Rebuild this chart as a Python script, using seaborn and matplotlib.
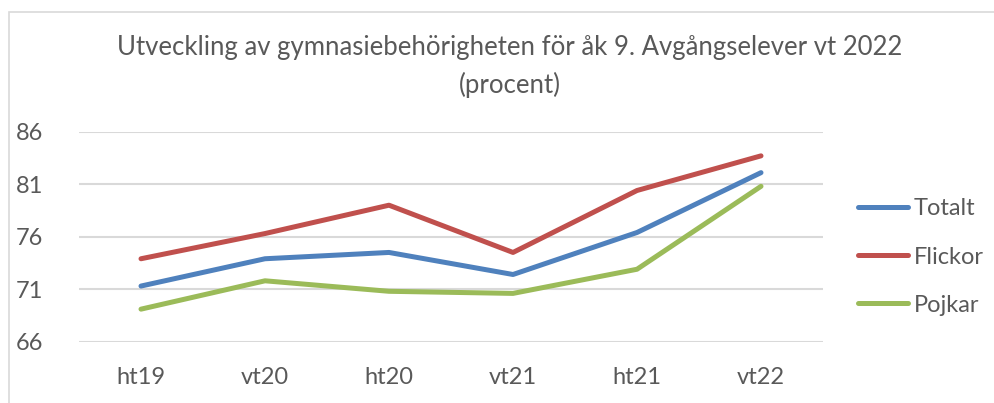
import pandas as pd
import numpy as np
import matplotlib.pyplot as plt
import seaborn as sns
from matplotlib.patches import Rectangle

# values
terms = ['ht19', 'vt20', 'ht20', 'vt21', 'ht21', 'vt22']
totalt = [71.3, 73.9, 74.5, 72.4, 76.4, 82.1]
flickor = [73.9, 76.3, 79.0, 74.5, 80.4, 83.7]
pojkar = [69.1, 71.8, 70.8, 70.6, 72.9, 80.8]
y_ticks = [66, 71, 76, 81, 86]

df = pd.DataFrame({
    'term': terms * 3,
    'value': totalt + flickor + pojkar,
    'group': ['Totalt'] * 6 + ['Flickor'] * 6 + ['Pojkar'] * 6,
})
palette = {'Totalt': '#4F81BD', 'Flickor': '#C0504D', 'Pojkar': '#9BBB59'}

sns.set_style('white')
plt.rcParams['font.family'] = ['Lato', 'DejaVu Sans']
text_col = '#595959'

fig = plt.figure(figsize=(9.95, 4.03), dpi=100)
ax = fig.add_axes([79 / 995, 1 - 341.7 / 403, (823 - 79) / 995, 210 / 403])

sns.lineplot(data=df, x='term', y='value', hue='group', palette=palette,
             linewidth=3.6, sort=False, ax=ax, legend=True)

ax.set_xlim(-0.5, 5.5)
ax.set_ylim(66, 86)
ax.set_yticks(y_ticks)
ax.yaxis.grid(True, color='#D9D9D9', linewidth=1.5)
ax.set_axisbelow(True)
for s in ax.spines.values():
    s.set_visible(False)
ax.tick_params(axis='both', length=0, labelsize=17, colors=text_col)
ax.tick_params(axis='y', pad=26)
ax.tick_params(axis='x', pad=18)
ax.set_xlabel('')
ax.set_ylabel('')

handles, labels = ax.get_legend_handles_labels()
ax.legend_.remove()
leg = fig.legend(handles, labels, loc='center left', bbox_to_anchor=(858 / 995, 1 - 257 / 403),
                 frameon=False, fontsize=17, handlelength=2.1, handletextpad=0.25,
                 labelspacing=1.15, borderpad=0, borderaxespad=0)
for t in leg.get_texts():
    t.set_color(text_col)

fig.text(510 / 995, 1 - 48 / 403, 'Utveckling av gymnasiebehörigheten för åk 9. Avgångselever vt 2022',
         ha='center', va='center', fontsize=18.5, color=text_col)
fig.text(510 / 995, 1 - 85 / 403, '(procent)', ha='center', va='center', fontsize=18.5, color=text_col)

# chart border like the spreadsheet frame
fig.patches.append(Rectangle((9 / 995, -0.2), 1.2, 1.2 - 12 / 403, transform=fig.transFigure,
                             fill=False, edgecolor='#D9D9D9', linewidth=1.2))

fig.savefig('out.png', dpi=100)
